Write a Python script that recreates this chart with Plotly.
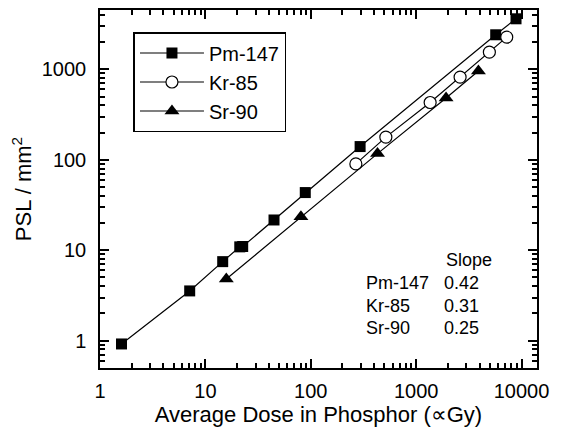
import plotly.graph_objects as go

# Data
pm_x = [1.6, 7.1, 14.6, 21.2, 22.6, 44.8, 88.7, 294, 5690, 8870]
pm_y = [0.92, 3.55, 7.48, 10.9, 11.0, 21.6, 43.4, 140, 2410, 3620]

kr_x = [268, 516, 1358, 2613, 4955, 7240]
kr_y = [90, 178, 430, 820, 1549, 2270]

sr_x = [15.8, 80.7, 430, 1923, 3900]
sr_y = [4.8, 23.4, 117, 482, 960]

slope_names = ["Pm-147", "Kr-85", "Sr-90"]
slope_vals = ["0.42", "0.31", "0.25"]

FONT = "Liberation Sans, Arial, sans-serif"
OFF = 8  # default page body margin

XR = [0, 4.147]
YR = [-0.302, 3.656]
L, R, T, B = 99.5, 537, 10, 368  # plot area in window pixels

fig = go.Figure()
fig.add_trace(go.Scatter(x=pm_x, y=pm_y, mode="lines+markers", name="Pm-147",
                         line=dict(color="black", width=1.2),
                         marker=dict(symbol="square", size=11, color="black",
                                     line=dict(color="black", width=0))))
fig.add_trace(go.Scatter(x=kr_x, y=kr_y, mode="lines+markers", name="Kr-85",
                         line=dict(color="black", width=1.2),
                         marker=dict(symbol="circle", size=12, color="white",
                                     line=dict(color="black", width=1.2))))
fig.add_trace(go.Scatter(x=sr_x, y=sr_y, mode="lines+markers", name="Sr-90",
                         line=dict(color="black", width=1.2),
                         marker=dict(symbol="triangle-up", size=13, color="black",
                                     line=dict(color="black", width=0))))

common = dict(type="log", dtick=1, tickformat="d",
              ticks="inside", ticklen=9, tickwidth=2, tickcolor="black",
              showline=True, linecolor="black", linewidth=1.5, mirror="allticks",
              showgrid=False, zeroline=False,
              minor=dict(ticks="inside", ticklen=5, tickwidth=1.6,
                         tickcolor="black", showgrid=False),
              tickfont=dict(family=FONT, size=20, color="black"))

fig.update_xaxes(**common, range=XR, ticklabelstandoff=4,
                 title=dict(text="Average Dose in Phosphor (\u221dGy)",
                            font=dict(family=FONT, size=22, color="black"),
                            standoff=6))
fig.update_yaxes(**common, range=YR, ticklabelstandoff=8,
                 title=dict(text="PSL / mm<sup>2</sup>",
                            font=dict(family=FONT, size=22, color="black"),
                            standoff=8))

# Slope table (positions in window pixels)
PW, PH = R - L, B - T
ann = [dict(text="Slope", x=444, y=260)]
rows_y = [283, 306, 328]
for name, val, yy in zip(slope_names, slope_vals, rows_y):
    ann.append(dict(text=name, x=364, y=yy))
    ann.append(dict(text=val, x=442, y=yy))

for a in ann:
    fig.add_annotation(text=a["text"], xref="paper", yref="paper",
                       x=(a["x"] - L) / PW, y=(B - a["y"]) / PH,
                       xanchor="left", yanchor="middle", showarrow=False,
                       font=dict(family=FONT, size=18, color="black"))

W, H = 564 - OFF, 434 - OFF
fig.update_layout(
    width=W, height=H,
    margin=dict(l=L - OFF, r=W - (R - OFF), t=T - OFF, b=H - (B - OFF),
                autoexpand=False),
    paper_bgcolor="white", plot_bgcolor="white",
    showlegend=True,
    legend=dict(x=(133 - L) / PW, y=(B - 32) / PH,
                xanchor="left", yanchor="top",
                bordercolor="black", borderwidth=1.5, bgcolor="white",
                font=dict(family=FONT, size=20, color="black"),
                itemwidth=64, tracegroupgap=0),
)

fig.write_html("out.html")
